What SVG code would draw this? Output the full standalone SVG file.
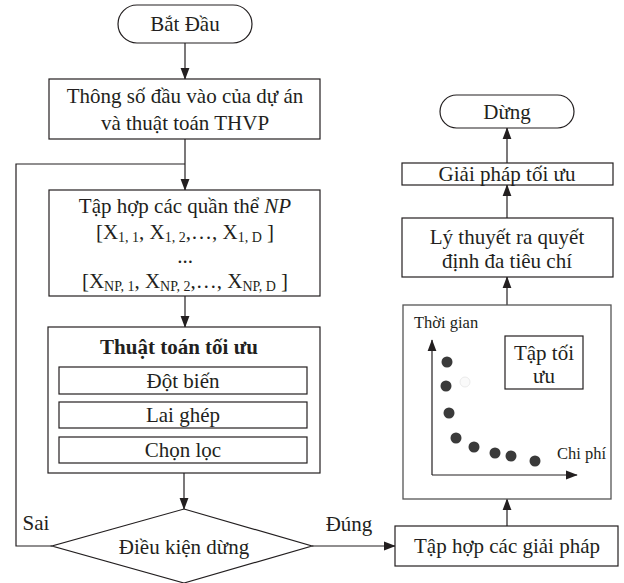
<svg xmlns="http://www.w3.org/2000/svg" width="624" height="583" viewBox="0 0 624 583">
<style>
text{font-family:"Liberation Serif","Times New Roman",serif;fill:#231f20;}
.t{font-size:21px;text-anchor:middle;}
.sub{font-size:14px;}
.s{font-size:16.5px;}
.box{fill:#fff;stroke:#231f20;stroke-width:1.2;}
.ln{fill:none;stroke:#231f20;stroke-width:1.2;}
.dot{fill:#3a3a3a;}
</style>
<defs>
<marker id="ah" markerUnits="userSpaceOnUse" markerWidth="12" markerHeight="16" refX="15" refY="6" orient="auto" viewBox="0 0 16 12">
<path d="M0,0 L16,6 L0,12 Z" fill="#231f20"/>
</marker>
</defs>
<g id="connectors">
<line class="ln" x1="185" y1="43" x2="185" y2="79" marker-end="url(#ah)"/>
<line class="ln" x1="185" y1="139" x2="185" y2="190" marker-end="url(#ah)"/>
<polyline class="ln" points="52,546 16,546 16,164 185,164"/>
<line class="ln" x1="185" y1="296" x2="185" y2="327" marker-end="url(#ah)"/>
<line class="ln" x1="184" y1="473" x2="184" y2="509" marker-end="url(#ah)"/>
<line class="ln" x1="312" y1="546" x2="395" y2="546" marker-end="url(#ah)"/>
<line class="ln" x1="507" y1="526" x2="507" y2="499" marker-end="url(#ah)"/>
<line class="ln" x1="507" y1="305" x2="507" y2="277" marker-end="url(#ah)"/>
<line class="ln" x1="507" y1="218" x2="507" y2="185" marker-end="url(#ah)"/>
<line class="ln" x1="507" y1="163" x2="507" y2="128" marker-end="url(#ah)"/>
<text class="t" x="36" y="530">Sai</text>
<text class="t" x="349" y="531">Đúng</text>
</g>
<g id="start">
<rect class="box" x="118" y="5" width="134" height="38" rx="19"/>
<text class="t" x="185" y="31">Bắt Đầu</text>
</g>
<g id="input">
<rect class="box" x="49" y="79" width="271" height="60"/>
<text class="t" x="185" y="103">Thông số đầu vào của dự án</text>
<text class="t" x="185" y="130">và thuật toán THVP</text>
</g>
<g id="population">
<rect class="box" x="49" y="190" width="271" height="106"/>
<text class="t" x="185" y="213">Tập hợp các quần thể <tspan font-style="italic">NP</tspan></text>
<text class="t" x="185" y="239">[X<tspan class="sub" dy="3">1, 1</tspan><tspan dy="-3">, X</tspan><tspan class="sub" dy="3">1, 2</tspan><tspan dy="-3">,…, X</tspan><tspan class="sub" dy="3">1, D</tspan><tspan dy="-3"> ]</tspan></text>
<text class="t" x="185" y="263">...</text>
<text class="t" x="185" y="288">[X<tspan class="sub" dy="3">NP, 1</tspan><tspan dy="-3">, X</tspan><tspan class="sub" dy="3">NP, 2</tspan><tspan dy="-3">,…, X</tspan><tspan class="sub" dy="3">NP, D</tspan><tspan dy="-3"> ]</tspan></text>
</g>
<g id="algorithm">
<rect class="box" x="48" y="327" width="272" height="146"/>
<text class="t" x="179" y="354" font-weight="bold">Thuật toán tối ưu</text>
<rect class="box" x="59" y="367" width="248" height="27"/>
<text class="t" x="183" y="388">Đột biến</text>
<rect class="box" x="59" y="402" width="248" height="26"/>
<text class="t" x="183" y="422">Lai ghép</text>
<rect class="box" x="59" y="437" width="248" height="26"/>
<text class="t" x="183" y="457">Chọn lọc</text>
</g>
<g id="condition">
<polygon class="box" points="184,509 312,546 184,583 52,546"/>
<text class="t" x="184" y="554">Điều kiện dừng</text>
</g>
<g id="solutions">
<rect class="box" x="395" y="526" width="223" height="40"/>
<text class="t" x="507" y="553">Tập hợp các giải pháp</text>
</g>
<g id="pareto">
<rect x="403" y="305" width="208" height="194" fill="#fff" stroke="#555" stroke-width="1.3"/>
<text class="s" x="414" y="328">Thời gian</text>
<text class="s" x="557" y="459">Chi phí</text>
<line class="ln" x1="432" y1="475" x2="432" y2="340" marker-end="url(#ah)"/>
<line class="ln" x1="432" y1="475" x2="577" y2="475" marker-end="url(#ah)"/>
<rect class="box" x="505" y="336" width="78" height="53"/>
<text class="t" x="544" y="360">Tập tối</text>
<text class="t" x="544" y="383">ưu</text>
<circle class="dot" cx="447" cy="362" r="5.5"/>
<circle class="dot" cx="446" cy="386" r="5.5"/>
<circle class="dot" cx="449" cy="413" r="5.5"/>
<circle class="dot" cx="456" cy="438" r="5.5"/>
<circle class="dot" cx="474" cy="447" r="5.5"/>
<circle class="dot" cx="495" cy="453" r="5.5"/>
<circle class="dot" cx="511" cy="456" r="5.5"/>
<circle class="dot" cx="535" cy="461" r="5.5"/>
<circle cx="465" cy="382" r="5" fill="#fafafa" stroke="#e6e6e6" stroke-width="0.8"/>
</g>
<g id="mcdm">
<rect class="box" x="402" y="218" width="211" height="59"/>
<text class="t" x="507" y="244">Lý thuyết ra quyết</text>
<text class="t" x="507" y="268">định đa tiêu chí</text>
</g>
<g id="optimal">
<rect class="box" x="402" y="163" width="211" height="22"/>
<text class="t" x="507" y="181">Giải pháp tối ưu</text>
</g>
<g id="stop">
<rect class="box" x="440" y="95" width="134" height="33" rx="16.5"/>
<text class="t" x="507" y="119">Dừng</text>
</g>
</svg>
